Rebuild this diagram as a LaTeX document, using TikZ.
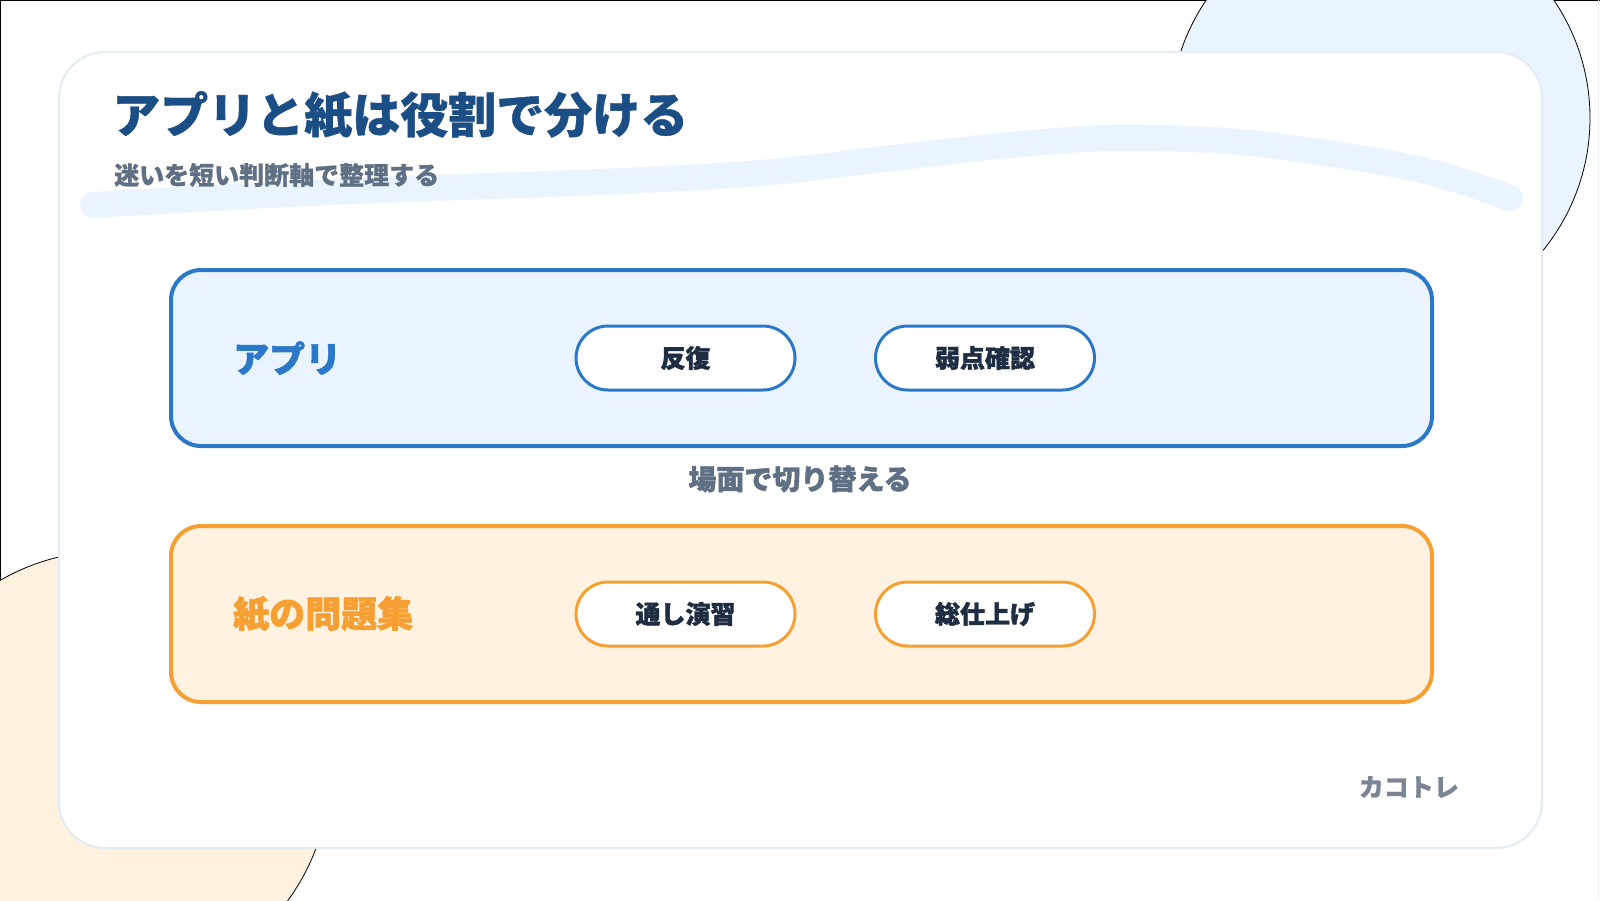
\documentclass[tikz,border=0pt]{standalone}
\usepackage{fontspec}
\setmainfont{Noto Sans CJK JP}
\newfontfamily\heavyfont{Noto Sans CJK JP}[BoldFeatures={FakeBold=1.6}]
\newfontfamily\semiheavyfont{Noto Sans CJK JP}[BoldFeatures={FakeBold=0.8}]
\usetikzlibrary{shapes.misc}
\definecolor{titleblue}{HTML}{1A4E85}
\definecolor{subgrey}{HTML}{5F6F84}
\definecolor{paleblue}{HTML}{EAF4FE}
\definecolor{paleorange}{HTML}{FEF1DF}
\definecolor{cardline}{HTML}{E3EBF4}
\definecolor{appblue}{HTML}{2B78C8}
\definecolor{paperorange}{HTML}{F6A033}
\definecolor{boxorange}{HTML}{FFF2E0}
\definecolor{pilltext}{HTML}{1E2D42}
\definecolor{brandgrey}{HTML}{7B8695}
\tikzset{
  panel/.style={draw=#1, line width=4pt, rounded corners=30pt},
  pill/.style={draw=#1, line width=3pt, fill=white, rounded rectangle,
    minimum width=219pt, minimum height=64pt, inner sep=0pt,
    text=pilltext, font=\heavyfont\bfseries\fontsize{25}{25}\selectfont},
  boxlabel/.style={anchor=west, inner sep=0pt, text=#1, font=\heavyfont\bfseries\fontsize{36}{36}\selectfont},
}
\begin{document}
\begin{tikzpicture}[x=1pt,y=-1pt]
\useasboundingbox (0,0) rectangle (1600,900);
\fill[white] (0,0) rectangle (1600,900);
% frame edges
\draw[black, line width=2pt] (0,900) -- (0,0) -- (1600,0);
\draw[cardline!70!white, line width=1pt] (1598,0) -- (1598,900);
% decorative circles
\draw[black, line width=0.8pt, fill=paleblue] (1380,118) circle[radius=210];
\draw[black, line width=0.8pt, fill=paleorange] (110,771) circle[radius=220];
% card
\draw[cardline, line width=2pt, fill=white, rounded corners=46pt] (59,52) rectangle (1542,848);
% wave
\draw[paleblue, line width=26pt, line cap=round] plot[smooth, tension=0.55] coordinates {
  (93,205) (330,192) (600,182) (760,173) (893,158) (1000,146) (1113,138) (1250,143) (1413,168) (1510,198)};
% titles
\node[anchor=west, inner sep=0pt, text=titleblue, font=\semiheavyfont\bfseries\fontsize{48}{48}\selectfont] (title) at (112,115) {アプリと紙は役割で分ける};
\node[anchor=west, inner sep=0pt, text=subgrey, font=\semiheavyfont\bfseries\fontsize{25}{25}\selectfont] (subtitle) at (114,175) {迷いを短い判断軸で整理する};
% app panel
\draw[panel=appblue, fill=paleblue] (171,270) rectangle (1432,446);
\node[boxlabel=appblue] (applabel) at (233,358) {アプリ};
\node[pill=appblue] (rep) at (685.5,358) {反復};
\node[pill=appblue] (weak) at (985,358) {弱点確認};
% switch label
\node[inner sep=0pt, text=subgrey, font=\heavyfont\bfseries\fontsize{28}{28}\selectfont] (switch) at (800,479) {場面で切り替える};
% paper panel
\draw[panel=paperorange, fill=boxorange] (171,526) rectangle (1432,702);
\node[boxlabel=paperorange] (paperlabel) at (233,614) {紙の問題集};
\node[pill=paperorange] (through) at (685.5,614) {通し演習};
\node[pill=paperorange] (final) at (985,614) {総仕上げ};
% brand
\node[anchor=east, inner sep=0pt, text=brandgrey, font=\semiheavyfont\bfseries\fontsize{25}{25}\selectfont] (brand) at (1459,787) {カコトレ};
\end{tikzpicture}
\end{document}
